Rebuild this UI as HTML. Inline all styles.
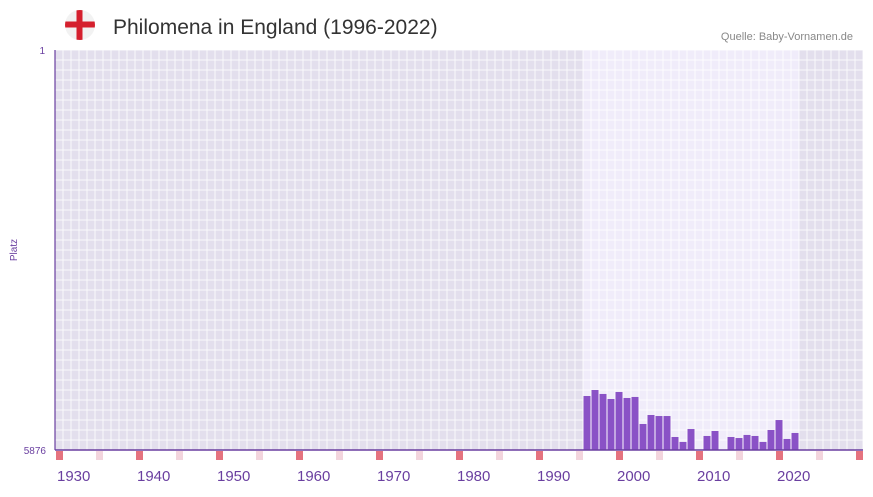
<!DOCTYPE html>
<html><head><meta charset="utf-8"><style>
body{margin:0;background:#fff;font-family:"Liberation Sans",sans-serif;}
</style></head><body>
<svg width="873" height="492" xmlns="http://www.w3.org/2000/svg">
<defs><clipPath id="fc"><circle cx="80" cy="25" r="15"/></clipPath></defs>
<g>
<circle cx="80" cy="25" r="15" fill="#f2f2f2"/>
<g clip-path="url(#fc)"><rect x="76.5" y="10" width="6" height="30" fill="#d5202e"/><rect x="65" y="21.5" width="30" height="6" fill="#d5202e"/></g>
</g>
<text x="113" y="34" font-size="21" fill="#333">Philomena in England (1996-2022)</text>
<text x="853" y="40" font-size="11" fill="#888" text-anchor="end">Quelle: Baby-Vornamen.de</text>
<g id="plot"></g>
<text x="17" y="250" font-size="10" fill="#6a3fa0" text-anchor="middle" transform="rotate(-90 17 250)">Platz</text>
<text x="45" y="54" font-size="10" fill="#6a3fa0" text-anchor="end">1</text>
<text x="46" y="454" font-size="10" fill="#6a3fa0" text-anchor="end">5876</text>
</svg>
<script>
const years=[1996,1997,1998,1999,2000,2001,2002,2003,2004,2005,2006,2007,2008,2009,2011,2012,2014,2015,2016,2017,2018,2019,2020,2021,2022];
const ranks=[5083,4995,5053,5127,5024,5112,5097,5494,5362,5377,5377,5685,5758,5568,5670,5597,5685,5700,5655,5670,5758,5582,5436,5714,5626];
const xTicks=[1930,1940,1950,1960,1970,1980,1990,2000,2010,2020];
const startYear=1930,endYear=2030,hiFrom=1996,hiTo=2022,maxRank=5876;
const NS="http://www.w3.org/2000/svg";
const L=55,R=863,T=50,B=450,cw=(R-L)/(endYear-startYear+1);
const x=y=>L+(y-startYear)*cw;
const yS=r=>T+(r-1)/(maxRank-1)*(B-T);
const g=document.getElementById('plot');
function mk(t,a){const e=document.createElementNS(NS,t);for(const k in a)e.setAttribute(k,a[k]);g.appendChild(e);return e;}
let e=mk('rect',{x:L,y:T,width:R-L,height:B-T,fill:'#e3dfed'});


e=mk('rect',{x:x(hiFrom),y:T,width:x(hiTo+1)-x(hiFrom),height:B-T,fill:'#f0ecfa'});


for(let yy=startYear;yy<=endYear+1;yy++){const l=mk('line',{x1:x(yy),x2:x(yy),y1:T,y2:B,stroke:'#fff','stroke-width':1,opacity:0.8});}
for(let h=T;h<=B;h+=10){mk('line',{x1:L,x2:R,y1:h,y2:h,stroke:'#fff','stroke-width':1,opacity:0.8});}
for(let yy=startYear;yy<=endYear;yy++){
  if(yy%5!==0)continue;
  const m=mk('rect',{x:x(yy)+1,y:451,width:cw-1,height:9,fill:yy%10===0?'#e5737f':'#f3d5dd'});
  
  
}
years.forEach((yy,i)=>{
  const b=mk('rect',{x:x(yy)+0.5,y:yS(ranks[i]),width:cw-1,height:B-yS(ranks[i]),fill:'#8a52c6'});
  
  
});
e=mk('line',{x1:L,x2:L,y1:T,y2:B,stroke:'#6a3fa0','stroke-width':1.2});


e=mk('line',{x1:L,x2:R,y1:B,y2:B,stroke:'#6a3fa0','stroke-width':1.5});


xTicks.forEach(t=>{
  const tx=mk('text',{x:x(t)+2,y:481,'font-size':15,fill:'#6a3fa0'});
  tx.textContent=t;
  
  
});
</script>
</body></html>
